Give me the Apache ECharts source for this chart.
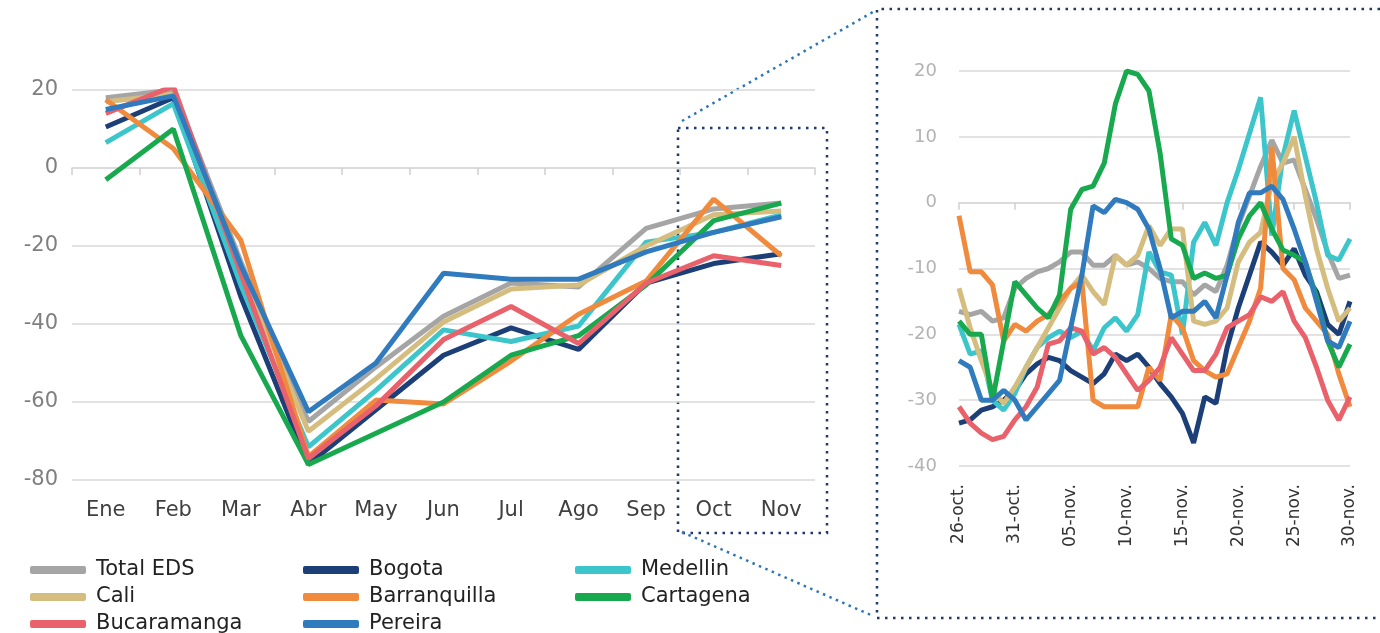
<!DOCTYPE html>
<html>
<head>
<meta charset="utf-8">
<script src="https://cdn.jsdelivr.net/npm/echarts@6/dist/echarts.min.js"></script>
<style>
  html, body { margin: 0; padding: 0; background: #fff; }
  #chart { width: 1380px; height: 633px; }
</style>
</head>
<body>
<div id="chart"></div>
<script>
// monthly panel
var months = ['Ene', 'Feb', 'Mar', 'Abr', 'May', 'Jun', 'Jul', 'Ago', 'Sep', 'Oct', 'Nov'];
var mTotal        = [18, 20, -24, -65, -51, -38, -29.5, -30.5, -15.5, -10.5, -9];
var mBogota       = [10.5, 18, -33, -76, -62, -48, -41, -46.5, -29.5, -24.5, -22];
var mMedellin     = [6.5, 16.5, -30, -71.5, -57, -41.5, -44.5, -40.5, -19, -16.5, -12];
var mCali         = [17, 19, -26, -67.5, -54, -39.5, -31, -30, -20, -12, -11];
var mBarranquilla = [17.5, 5, -18.5, -74, -59.5, -60.5, -49.5, -37.5, -29, -8, -22.5];
var mCartagena    = [-3, 10, -43, -76, -68, -60, -48, -43, -30, -13.5, -9];
var mBucaramanga  = [14, 21, -27, -74.5, -61, -44, -35.5, -45, -29.5, -22.5, -25];
var mPereira      = [15, 18.5, -25, -62.5, -50, -27, -28.5, -28.5, -21.5, -16.5, -12.5];

// daily panel, 26-oct to 30-nov
var days = ['26-oct.', '27-oct.', '28-oct.', '29-oct.', '30-oct.', '31-oct.',
  '01-nov.', '02-nov.', '03-nov.', '04-nov.', '05-nov.', '06-nov.', '07-nov.', '08-nov.', '09-nov.', '10-nov.',
  '11-nov.', '12-nov.', '13-nov.', '14-nov.', '15-nov.', '16-nov.', '17-nov.', '18-nov.', '19-nov.', '20-nov.',
  '21-nov.', '22-nov.', '23-nov.', '24-nov.', '25-nov.', '26-nov.', '27-nov.', '28-nov.', '29-nov.', '30-nov.'];
var dTotal        = [-16.5, -17, -16.5, -18, -17.5, -13, -11.5, -10.5, -10, -9, -7.5, -7.5, -9.5, -9.5, -8, -9.5, -9, -10, -11.5, -12, -12, -14, -12.5, -13.5, -9.5, -3.5, 1, 5.5, 9.5, 6, 6.5, 2, -2.5, -7.5, -11.5, -11];
var dBogota       = [-33.5, -33, -31.5, -31, -30, -28.5, -26, -24.5, -23.5, -24, -25.5, -26.5, -27.5, -26, -23, -24, -23, -25, -27.5, -29.5, -32, -36.5, -29.5, -30.5, -22, -16, -11, -6, -7.5, -9.5, -7, -11, -13.5, -18.5, -20, -15];
var dMedellin     = [-18.5, -23, -22.5, -30, -31.5, -29, -25, -22, -20.5, -19.5, -20.5, -19.5, -22.5, -19, -17.5, -19.5, -17, -7.5, -10.5, -11, -20, -6, -3, -6.5, 0, 5, 10.5, 16, -5, 7, 14, 7, 0, -8, -8.7, -5.5];
var dCali         = [-13, -19, -24, -28.5, -30.5, -28, -25, -22, -19, -16, -13, -11, -13.5, -15.5, -8, -9.5, -8, -3.5, -6.5, -4, -4, -18, -18.5, -18, -16, -9, -6, -4.5, 3, 6, 10, 1, -7, -13, -18, -16];
var dBarranquilla = [-2, -10.5, -10.5, -12.5, -21, -18.5, -19.5, -18, -17, -15, -13, -12, -30, -31, -31, -31, -31, -25, -27, -17, -19, -24, -25.5, -26.5, -26, -22, -18, -13, 8.5, -10, -11.7, -16, -18, -20, -26, -31];
var dCartagena    = [-18, -20, -20, -30, -21, -12, -14, -16, -17.5, -14, -1, 2, 2.5, 6, 15, 20, 19.5, 17, 7.5, -5.5, -6.5, -11.5, -10.7, -11.5, -11, -5.5, -2, 0, -4, -7.2, -8, -9, -14.3, -21, -25, -21.5];
var dBucaramanga  = [-31, -33.5, -35, -36, -35.5, -33, -31, -28, -21.5, -21, -19, -19.5, -23, -22, -23.5, -26, -28.5, -27, -25, -20.5, -23, -25.5, -25.5, -23, -19, -18, -17, -14.3, -15, -13.5, -18, -20.5, -25, -30, -33, -29.5];
var dPereira      = [-24, -25, -30, -30, -28.5, -30, -33, -31, -29, -27, -19, -11, -0.5, -1.5, 0.5, 0, -1, -4, -10, -17.5, -16.5, -16.5, -15, -17.5, -11, -3, 1.5, 1.5, 2.5, 0.5, -4, -9, -15, -21, -22, -18];

var names = ['Total EDS', 'Bogota', 'Medellin', 'Cali', 'Barranquilla', 'Cartagena', 'Bucaramanga', 'Pereira'];
var colors = ['#a5a5a5', '#1d3f78', '#3cc6cc', '#d5bd7f', '#f08a3c', '#18a84e', '#e9616a', '#2f7bbd'];
var monthly = [mTotal, mBogota, mMedellin, mCali, mBarranquilla, mCartagena, mBucaramanga, mPereira];
var daily = [dTotal, dBogota, dMedellin, dCali, dBarranquilla, dCartagena, dBucaramanga, dPereira];

var font = 'DejaVu Sans';
var gridLine = { show: true, lineStyle: { color: '#d9d9d9', width: 1.5 } };
var dotBox = { stroke: '#1f3864', lineWidth: 2.5, lineDash: [2.5, 5.5], fill: null };
var dotLink = { stroke: '#2e75b6', lineWidth: 2.5, lineDash: [2.5, 4.5], fill: null };

var series = [];
names.forEach(function (n, i) {
    series.push({
        name: n, type: 'line', xAxisIndex: 0, yAxisIndex: 0,
        data: monthly[i], symbol: 'none', color: colors[i],
        lineStyle: { width: 5, color: colors[i] }
    });
    series.push({
        name: n, type: 'line', xAxisIndex: 2, yAxisIndex: 1,
        data: daily[i], symbol: 'none', color: colors[i],
        lineStyle: { width: 5, color: colors[i] }
    });
});

function legendCol(left, list) {
    return {
        orient: 'vertical', left: left, top: 554, height: 120, itemGap: 5,
        icon: 'roundRect', itemWidth: 56, itemHeight: 8,
        data: list,
        textStyle: { fontFamily: font, fontSize: 21, lineHeight: 22, color: '#222', padding: [0, 0, 0, 5] }
    };
}

var chart = echarts.init(document.getElementById('chart'));
var option = {
    animation: false,
    backgroundColor: '#fff',
    legend: [
        legendCol(25, ['Total EDS', 'Cali', 'Bucaramanga']),
        legendCol(298, ['Bogota', 'Barranquilla', 'Pereira']),
        legendCol(570, ['Medellin', 'Cartagena'])
    ],
    grid: [
        { left: 72, top: 90, width: 743, height: 390 },
        { left: 959, top: 71, right: 30, height: 395 }
    ],
    xAxis: [
        {
            type: 'category', gridIndex: 0, data: months, boundaryGap: true,
            position: 'bottom', axisLine: { show: false, onZero: false }, axisTick: { show: false },
            axisLabel: { fontFamily: font, fontSize: 21, color: '#404040', margin: 20 }
        },
        {
            type: 'category', gridIndex: 0, data: months, boundaryGap: true,
            position: 'top', axisLine: { show: true, onZero: true, lineStyle: { color: '#d9d9d9', width: 1.5 } },
            axisTick: { show: true, inside: true, length: 7, lineStyle: { color: '#d0d0d0', width: 1.5 } },
            axisLabel: { show: false }
        },
        {
            type: 'category', gridIndex: 1, data: days, boundaryGap: false,
            position: 'bottom', axisLine: { show: false, onZero: false }, axisTick: { show: false },
            axisLabel: { fontFamily: font, fontSize: 17, color: '#333', rotate: 90, interval: 4, margin: 18 }
        },
        {
            type: 'category', gridIndex: 1, data: days, boundaryGap: false,
            position: 'top', axisLine: { show: true, onZero: true, lineStyle: { color: '#d9d9d9', width: 1.5 } },
            axisTick: { show: true, inside: true, interval: 4, length: 7, lineStyle: { color: '#d0d0d0', width: 1.5 } },
            axisLabel: { show: false }
        }
    ],
    yAxis: [
        {
            type: 'value', gridIndex: 0, min: -80, max: 20, interval: 20,
            axisLine: { show: false }, axisTick: { show: false }, splitLine: gridLine,
            axisLabel: { fontFamily: font, fontSize: 21, color: '#7f7f7f', margin: 14 }
        },
        {
            type: 'value', gridIndex: 1, min: -40, max: 20, interval: 10,
            axisLine: { show: false }, axisTick: { show: false }, splitLine: gridLine,
            axisLabel: { fontFamily: font, fontSize: 18, color: '#b3b3b3', margin: 22 }
        }
    ],
    graphic: [
        { type: 'rect', shape: { x: 678, y: 128, width: 149, height: 405 }, style: dotBox, silent: true },
        { type: 'polyline', shape: { points: [[1380, 9], [877, 9], [877, 618], [1380, 618]] }, style: dotBox, silent: true },
        { type: 'line', shape: { x1: 682, y1: 121, x2: 873, y2: 12 }, style: dotLink, silent: true },
        { type: 'line', shape: { x1: 682, y1: 532, x2: 873, y2: 616 }, style: dotLink, silent: true }
    ],
    series: series
};
chart.setOption(option);
</script>
</body>
</html>
